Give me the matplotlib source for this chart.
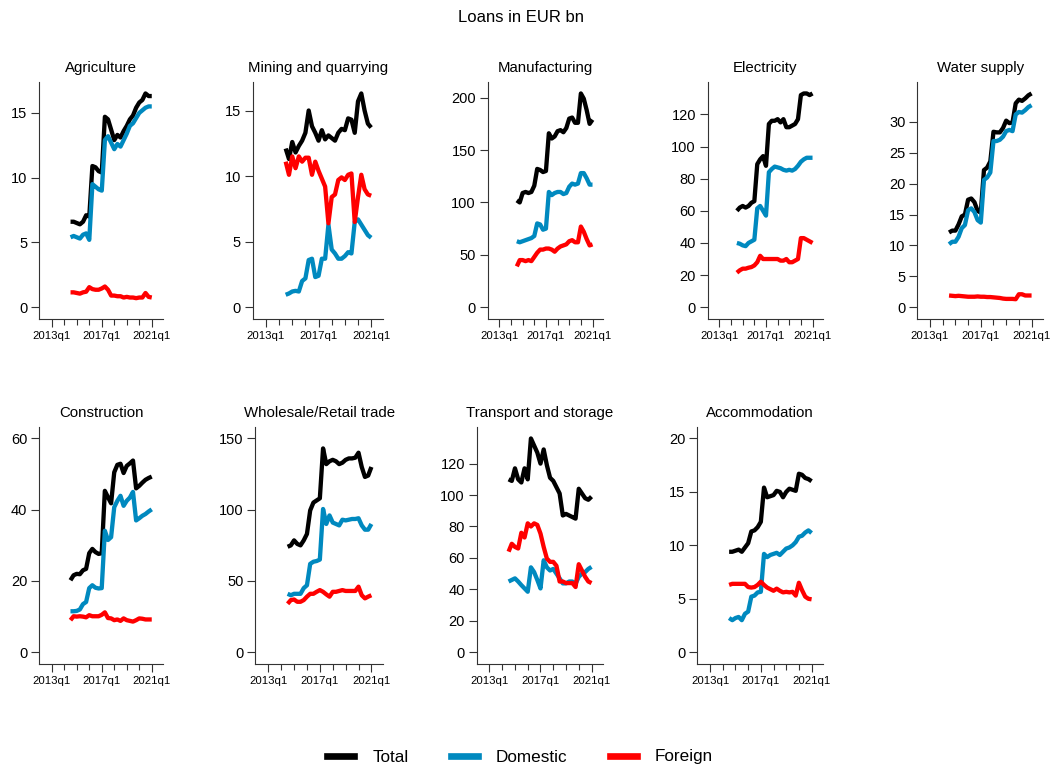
import numpy as np
import pandas as pd
import matplotlib
matplotlib.use('Agg')
import matplotlib.pyplot as plt
from matplotlib.lines import Line2D

plt.rcParams['font.family'] = ['Liberation Sans', 'DejaVu Sans']

# quarterly observations, 2014q3 .. 2021q1
quarters = pd.period_range('2014Q3', '2021Q1', freq='Q')
x = np.asarray(quarters.year + (quarters.quarter - 1) / 4, dtype=float)

sectors = ['Agriculture', 'Mining and quarrying', 'Manufacturing', 'Electricity',
           'Water supply', 'Construction', 'Wholesale/Retail trade',
           'Transport and storage', 'Accommodation']

# Loans in EUR bn: total / domestic / foreign
agri_total = [6.6, 6.6, 6.5, 6.4, 6.6, 7.1, 7.0, 10.9, 10.8, 10.5, 10.4, 14.7, 14.5, 13.7,
              12.9, 13.3, 13.1, 13.6, 14.0, 14.5, 14.8, 15.4, 15.8, 16.0, 16.5, 16.3, 16.3]
agri_dom = [5.4, 5.5, 5.4, 5.3, 5.6, 5.7, 5.2, 9.5, 9.3, 9.1, 9.0, 12.9, 13.2, 12.7,
            12.2, 12.6, 12.4, 12.9, 13.4, 14.0, 14.2, 14.6, 15.0, 15.2, 15.4, 15.5, 15.5]
agri_for = [1.15, 1.15, 1.1, 1.05, 1.15, 1.2, 1.55, 1.4, 1.35, 1.35, 1.45, 1.6, 1.35, 0.9,
            0.9, 0.85, 0.85, 0.75, 0.8, 0.75, 0.75, 0.7, 0.75, 0.75, 1.1, 0.8, 0.75]

mining_total = [12.1, 11.3, 12.6, 11.8, 12.3, 12.7, 13.3, 15.0, 13.8, 13.3, 12.7, 13.5, 12.8, 13.1,
                12.9, 12.7, 13.3, 13.6, 13.5, 14.4, 14.3, 13.3, 15.7, 16.3, 15.0, 14.0, 13.7]
mining_dom = [0.95, 1.05, 1.2, 1.25, 1.2, 2.0, 2.2, 3.6, 3.7, 2.3, 2.4, 3.7, 3.7, 6.3,
              4.4, 4.1, 3.7, 3.7, 3.9, 4.2, 4.1, 6.5, 6.7, 6.3, 5.9, 5.5, 5.3]
mining_for = [11.1, 10.1, 11.5, 10.6, 11.5, 11.1, 11.4, 11.4, 10.1, 11.1, 10.4, 9.8, 9.2, 6.4,
              8.4, 8.6, 9.7, 9.9, 9.7, 10.1, 10.2, 6.5, 8.4, 10.1, 9.0, 8.6, 8.5]

manuf_total = [102, 100, 109, 110, 109, 110, 116, 132, 131, 129, 130, 166, 161, 163,
               168, 169, 167, 171, 180, 181, 176, 176, 204, 199, 188, 175, 179]
manuf_dom = [63, 62, 63, 64, 65, 66, 68, 80, 79, 74, 75, 110, 107, 109,
             110, 110, 108, 109, 115, 118, 117, 118, 128, 128, 123, 117, 117]
manuf_for = [39, 45, 45, 44, 45, 44, 48, 52, 55, 55, 56, 56, 55, 53,
             56, 58, 59, 60, 63, 64, 62, 62, 77, 72, 65, 59, 60]

elec_total = [60, 62, 63, 62, 63, 65, 66, 89, 92, 94, 88, 114, 116, 116,
              117, 115, 117, 112, 112, 113, 114, 117, 132, 133, 133, 132, 133]
elec_dom = [40, 39.5, 38.5, 38, 40, 41, 42, 61.5, 63, 60, 57, 84, 86, 87.5,
            87, 86.5, 85.5, 85, 85.5, 85, 86, 88, 90.5, 92, 93, 93, 93]
elec_for = [21.5, 23, 24, 24, 24.6, 25, 26, 28, 32, 30, 30, 30, 30, 30,
            30, 29, 29, 30, 28, 28, 29, 30, 43, 43, 42, 41, 40]

water_total = [12.1, 12.4, 12.4, 13.4, 14.7, 15.0, 17.4, 17.6, 17.0, 15.6, 15.3, 22.2, 22.6, 23.6,
               28.4, 28.3, 28.3, 29.0, 30.2, 29.8, 29.9, 33.0, 33.6, 33.4, 33.8, 34.3, 34.6]
water_dom = [10.2, 10.6, 10.6, 11.4, 12.8, 13.3, 15.7, 16.0, 15.4, 14.1, 13.7, 20.6, 21.0, 21.8,
             26.9, 26.9, 27.1, 27.6, 28.5, 28.7, 28.5, 31.2, 31.6, 31.5, 31.9, 32.4, 32.7]
water_for = [1.9, 1.85, 1.8, 1.85, 1.8, 1.75, 1.7, 1.7, 1.7, 1.75, 1.7, 1.7, 1.65, 1.65,
             1.6, 1.55, 1.5, 1.4, 1.35, 1.35, 1.35, 1.3, 2.1, 2.1, 1.9, 1.9, 1.9]

constr_total = [20.2, 21.6, 22.0, 21.9, 23.0, 23.4, 27.8, 29.0, 28.1, 27.6, 27.8, 45.3, 43.5, 41.8,
                50.5, 52.6, 52.9, 50.3, 52.3, 53.0, 53.8, 46.0, 46.7, 47.6, 48.4, 48.9, 49.3]
constr_dom = [11.5, 11.5, 11.6, 12.0, 13.5, 14.1, 18.0, 18.8, 18.1, 17.9, 18.0, 34.1, 31.5, 32.3,
              40.7, 42.5, 43.9, 41.1, 42.5, 43.4, 45.0, 37.0, 37.6, 38.3, 38.8, 39.5, 40.1]
constr_for = [9.0, 10.1, 10.0, 10.1, 10.0, 9.8, 10.4, 10.1, 10.1, 10.1, 10.5, 11.2, 9.6, 9.5,
              9.0, 9.2, 8.8, 9.5, 9.0, 8.8, 8.6, 9.0, 9.5, 9.4, 9.2, 9.2, 9.2]

trade_total = [74, 75, 78.5, 76, 75, 78.5, 83, 99.5, 105, 106.5, 108, 143, 132, 134,
               135, 134, 132, 133, 135, 136, 136, 136.5, 140, 130, 123, 124, 130]
trade_dom = [41, 40, 41, 41, 41, 45, 47, 62, 63.5, 64, 65, 100.5, 90, 96,
             91, 90, 89, 93, 92.5, 93, 93.5, 93.5, 94, 89, 86, 86, 90]
trade_for = [34, 36.6, 37, 35.4, 35.4, 36.6, 39, 41, 41, 42.4, 43.6, 42.4, 40.6, 39,
             42.4, 42.4, 43, 43.6, 43, 43, 43, 43, 46, 40, 37.8, 39, 40]

transp_total = [110, 109, 117, 110, 108, 117, 110, 136, 131.5, 127, 120, 129, 119, 111,
                109, 105, 101, 87, 88, 87, 86, 85, 104, 101, 98, 97, 99]
transp_dom = [45, 46, 47, 45, 42.7, 40.6, 38.5, 54, 51, 46, 40.6, 58.5, 54, 52,
              53, 50, 47, 43.8, 43.8, 45, 45, 43.5, 48, 50, 51, 53, 54.3]
transp_for = [64, 69, 67, 66, 76, 73, 82, 80, 82, 81, 75.5, 67, 59.6, 57.5,
              57.5, 55, 45, 45, 44, 44, 44, 41.5, 56, 52, 48, 45, 44]

accom_total = [9.4, 9.4, 9.5, 9.6, 9.4, 9.8, 10.2, 11.3, 11.4, 11.7, 12.2, 15.4, 14.5, 14.6,
               14.7, 15.1, 15.0, 14.5, 15.0, 15.3, 15.2, 15.1, 16.7, 16.6, 16.3, 16.2, 16.0]
accom_dom = [3.2, 3.0, 3.2, 3.3, 3.0, 3.6, 3.8, 5.2, 5.3, 5.6, 5.65, 9.2, 8.9, 9.1,
             9.2, 9.3, 9.1, 9.4, 9.7, 9.8, 10.0, 10.3, 10.8, 10.9, 11.2, 11.4, 11.15]
accom_for = [6.3, 6.4, 6.4, 6.4, 6.4, 6.4, 6.1, 6.05, 6.1, 6.3, 6.6, 6.3, 6.05, 5.9,
             5.75, 5.95, 5.75, 5.6, 5.65, 5.6, 5.65, 5.3, 6.5, 5.8, 5.2, 5.0, 4.95]

y_ticks = [[0, 5, 10, 15], [0, 5, 10, 15], [0, 50, 100, 150, 200],
           list(range(0, 121, 20)), list(range(0, 31, 5)), [0, 20, 40, 60],
           [0, 50, 100, 150], list(range(0, 121, 20)), [0, 5, 10, 15, 20]]

x_major = [2013, 2017, 2021]
x_major_labels = ['2013q1', '2017q1', '2021q1']
x_minor = [2014, 2015, 2016, 2018, 2019, 2020]

series_names = ['Total', 'Domestic', 'Foreign']
colors = ['#000000', '#0089bf', '#ff0000']

data = [
    (agri_total, agri_dom, agri_for),
    (mining_total, mining_dom, mining_for),
    (manuf_total, manuf_dom, manuf_for),
    (elec_total, elec_dom, elec_for),
    (water_total, water_dom, water_for),
    (constr_total, constr_dom, constr_for),
    (trade_total, trade_dom, trade_for),
    (transp_total, transp_dom, transp_for),
    (accom_total, accom_dom, accom_for),
]

# layout in pixels (figure is 1054 x 769)
W, H = 1054, 769
col_right = [163, 383, 603, 823, 1043, 163, 383, 603, 823]
panel_left = [39.3, 252.8, 487.7, 707.8, 917.3, 39.2, 255.4, 476.7, 697.4]
row_top = [81.7] * 5 + [426.7] * 4
row_bottom = [319] * 5 + [664] * 4

fig = plt.figure(figsize=(W / 100, H / 100), dpi=100)
fig.patch.set_facecolor('white')

for k, name in enumerate(sectors):
    left, right = panel_left[k], col_right[k]
    top, bottom = row_top[k], row_bottom[k]
    ax = fig.add_axes([left / W, 1 - bottom / H, (right - left) / W, (bottom - top) / H])

    for vals, c in zip(data[k], colors):
        ax.plot(x, vals, color=c, lw=3.1, solid_joinstyle='round', solid_capstyle='butt')

    hi = max(y_ticks[k][-1], max(max(s) for s in data[k]))
    pad = 0.055 * hi
    ax.set_ylim(-pad, hi + pad)
    ax.set_xlim(2012.0, 2021.9)

    ax.set_yticks(y_ticks[k])
    ax.set_yticklabels([str(t) for t in y_ticks[k]], fontsize=10.5)
    ax.set_xticks(x_major)
    ax.set_xticklabels(x_major_labels, fontsize=8.2)
    ax.set_xticks(x_minor, minor=True)

    ax.tick_params(axis='both', which='major', direction='out', length=5.5, width=0.8,
                   color='#333333')
    ax.tick_params(axis='x', which='major', pad=3)
    ax.tick_params(axis='y', which='major', pad=3)
    ax.tick_params(axis='x', which='minor', direction='out', length=4.5, width=0.8,
                   color='#333333')

    for side in ['top', 'right']:
        ax.spines[side].set_visible(False)
    for side in ['left', 'bottom']:
        ax.spines[side].set_linewidth(0.8)
        ax.spines[side].set_color('#333333')

    ax.set_title(name, fontsize=10.8, pad=7)

fig.text(521 / W, 1 - 21.7 / H, 'Loans in EUR bn', fontsize=12, ha='center', va='baseline')

handles = [Line2D([0], [0], color=c, lw=4.8) for c in colors]
fig.legend(handles, series_names, loc='center', bbox_to_anchor=(520 / W, 1 - 757 / H),
           ncol=3, frameon=False, fontsize=12.3, handlelength=1.58,
           handletextpad=1.07, columnspacing=2.46)

fig.savefig('out.png', dpi=100, facecolor='white')
plt.close(fig)
